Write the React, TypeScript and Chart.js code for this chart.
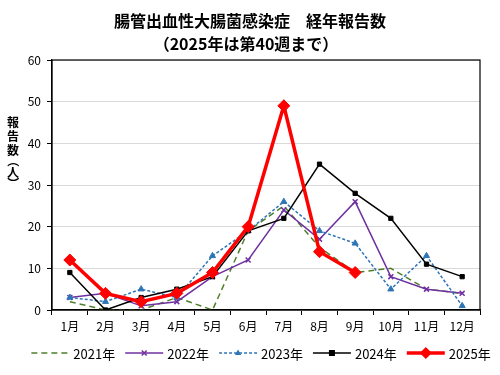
import React, { useEffect, useRef } from "react";
import { Chart, registerables } from "chart.js";

Chart.register(...registerables);

const months = ["1月", "2月", "3月", "4月", "5月", "6月", "7月", "8月", "9月", "10月", "11月", "12月"];
const y2021 = [2, 0, 0, 3, 0, 19, 25, 15, 9, 10, 5, 4];
const y2022 = [3, 4, 1, 2, 8, 12, 24, 17, 26, 8, 5, 4];
const y2023 = [3, 2, 5, 3, 13, 19, 26, 19, 16, 5, 13, 1];
const y2024 = [9, 0, 3, 5, 8, 19, 22, 35, 28, 22, 11, 8];
const y2025 = [12, 4, 2, 4, 9, 20, 49, 14, 9, null, null, null];
const seriesLabels = ["2021年", "2022年", "2023年", "2024年", "2025年"];
const titleLines = ["腸管出血性大腸菌感染症　経年報告数", "（2025年は第40週まで）"];
const yTitleChars = ["報", "告", "数", "（", "人", "）"];

const FONT = "'Noto Sans CJK JP', 'Noto Sans', sans-serif";

function drawMarker(ctx: CanvasRenderingContext2D, style: string, r: number, x: number, y: number, color: string, bw: number) {
  ctx.save();
  ctx.fillStyle = color;
  ctx.strokeStyle = color;
  ctx.lineWidth = bw;
  ctx.setLineDash([]);
  ctx.beginPath();
  if (style === "rect") {
    ctx.rect(x - r, y - r, 2 * r, 2 * r);
    ctx.fill();
  } else if (style === "rectRot") {
    ctx.moveTo(x, y - r);
    ctx.lineTo(x + r, y);
    ctx.lineTo(x, y + r);
    ctx.lineTo(x - r, y);
    ctx.closePath();
    ctx.fill();
  } else if (style === "triangle") {
    ctx.moveTo(x, y - r);
    ctx.lineTo(x + r * 0.9, y + r * 0.6);
    ctx.lineTo(x - r * 0.9, y + r * 0.6);
    ctx.closePath();
    ctx.fill();
  } else if (style === "crossRot") {
    ctx.moveTo(x - r * 0.7, y - r * 0.7);
    ctx.lineTo(x + r * 0.7, y + r * 0.7);
    ctx.moveTo(x + r * 0.7, y - r * 0.7);
    ctx.lineTo(x - r * 0.7, y + r * 0.7);
    ctx.stroke();
  }
  ctx.restore();
}

const decorPlugin = {
  id: "decor",
  afterDraw(chart: any) {
    const ctx = chart.ctx;
    const a = chart.chartArea;
    ctx.save();
    ctx.strokeStyle = "#000";
    ctx.lineWidth = 1.2;
    ctx.strokeRect(a.left, a.top, a.right - a.left, a.bottom - a.top);
    ctx.fillStyle = "#000";
    ctx.textAlign = "center";
    ctx.textBaseline = "middle";
    ctx.font = `bold 16px ${FONT}`;
    ctx.fillText(titleLines[0], 250, 21);
    ctx.fillText(titleLines[1], 246, 44);
    ctx.font = `bold 12px ${FONT}`;
    const ys = [122, 136, 150, 161, 172, 183];
    yTitleChars.forEach((ch, i) => {
      if (ch === "（" || ch === "）") {
        ctx.save();
        ctx.translate(13, ys[i]);
        ctx.rotate(Math.PI / 2);
        ctx.fillText(ch, 0, 0);
        ctx.restore();
      } else {
        ctx.fillText(ch, 13, ys[i]);
      }
    });
    ctx.font = `13px ${FONT}`;
    ctx.textAlign = "left";
    const lineLen = 38;
    const gap = 4;
    const spacing = 10;
    const widths = chart.data.datasets.map((d: any) => lineLen + gap + ctx.measureText(d.label).width);
    const total = widths.reduce((s: number, w: number) => s + w, 0) + spacing * (widths.length - 1);
    let x = 261 - total / 2;
    const ly = 353;
    chart.data.datasets.forEach((d: any, i: number) => {
      ctx.save();
      ctx.strokeStyle = d.borderColor;
      ctx.lineWidth = d.borderWidth;
      ctx.setLineDash(d.borderDash || []);
      ctx.beginPath();
      ctx.moveTo(x, ly);
      ctx.lineTo(x + lineLen, ly);
      ctx.stroke();
      ctx.restore();
      if (d.pointRadius > 0) {
        drawMarker(ctx, d.pointStyle, d.pointRadius, x + lineLen / 2, ly, d.borderColor, d.pointBorderWidth);
      }
      ctx.fillStyle = "#000";
      ctx.fillText(d.label, x + lineLen + gap, ly + 1);
      x += widths[i] + spacing;
    });
    ctx.restore();
  },
};

export default function App() {
  const ref = useRef<HTMLCanvasElement>(null);
  useEffect(() => {
    const mk = (label: string, data: (number | null)[], color: string, width: number, dash: number[], style: any, radius: number, order: number) => ({
      label,
      data,
      borderColor: color,
      backgroundColor: color,
      pointBackgroundColor: color,
      pointBorderColor: color,
      borderWidth: width,
      borderDash: dash,
      pointStyle: style,
      pointRadius: radius,
      pointBorderWidth: style === "crossRot" ? 1.5 : 1,
      tension: 0,
      spanGaps: false,
      order,
    });
    const chart = new Chart(ref.current as HTMLCanvasElement, {
      type: "line",
      data: {
        labels: months,
        datasets: [
          mk(seriesLabels[0], y2021, "#4f7f2b", 1.5, [6, 4], "circle", 0, 5),
          mk(seriesLabels[1], y2022, "#7030a0", 1.5, [], "crossRot", 3.5, 4),
          mk(seriesLabels[2], y2023, "#2e75b6", 1.5, [3, 2], "triangle", 3.5, 3),
          mk(seriesLabels[3], y2024, "#000000", 1.5, [], "rect", 3, 2),
          mk(seriesLabels[4], y2025, "#ff0000", 3.5, [], "rectRot", 6, 1),
        ] as any,
      },
      options: {
        animation: false,
        responsive: false,
        maintainAspectRatio: false,
        layout: { padding: { top: 60, right: 20, left: 0, bottom: 0 } },
        plugins: {
          legend: { display: false },
          title: { display: false },
          tooltip: { enabled: false },
        },
        scales: {
          x: {
            offset: true,
            grid: {
              display: true,
              offset: true,
              drawOnChartArea: false,
              drawTicks: true,
              tickLength: 5,
              color: "#000",
            },
            border: { display: true, color: "#000", width: 1.2 },
            ticks: { color: "#000", font: { family: FONT, size: 12 }, padding: 4, maxRotation: 0, autoSkip: false },
            afterFit: (s: any) => {
              s.height = 65;
            },
          },
          y: {
            min: 0,
            max: 60,
            ticks: { stepSize: 10, color: "#000", font: { family: FONT, size: 12 }, padding: 6 },
            grid: { color: "#d9d9d9", lineWidth: 1, tickLength: 5, tickColor: "#000" },
            border: { display: true, color: "#000", width: 1.2 },
            afterFit: (s: any) => {
              s.width = 52;
            },
          },
        },
      },
      plugins: [decorPlugin],
    });
    return () => chart.destroy();
  }, []);
  return (
    <div style={{ position: "fixed", left: 0, top: 0, width: 500, height: 375, background: "#fff" }}>
      <canvas ref={ref} width={500} height={375} style={{ width: 500, height: 375 }} />
    </div>
  );
}
